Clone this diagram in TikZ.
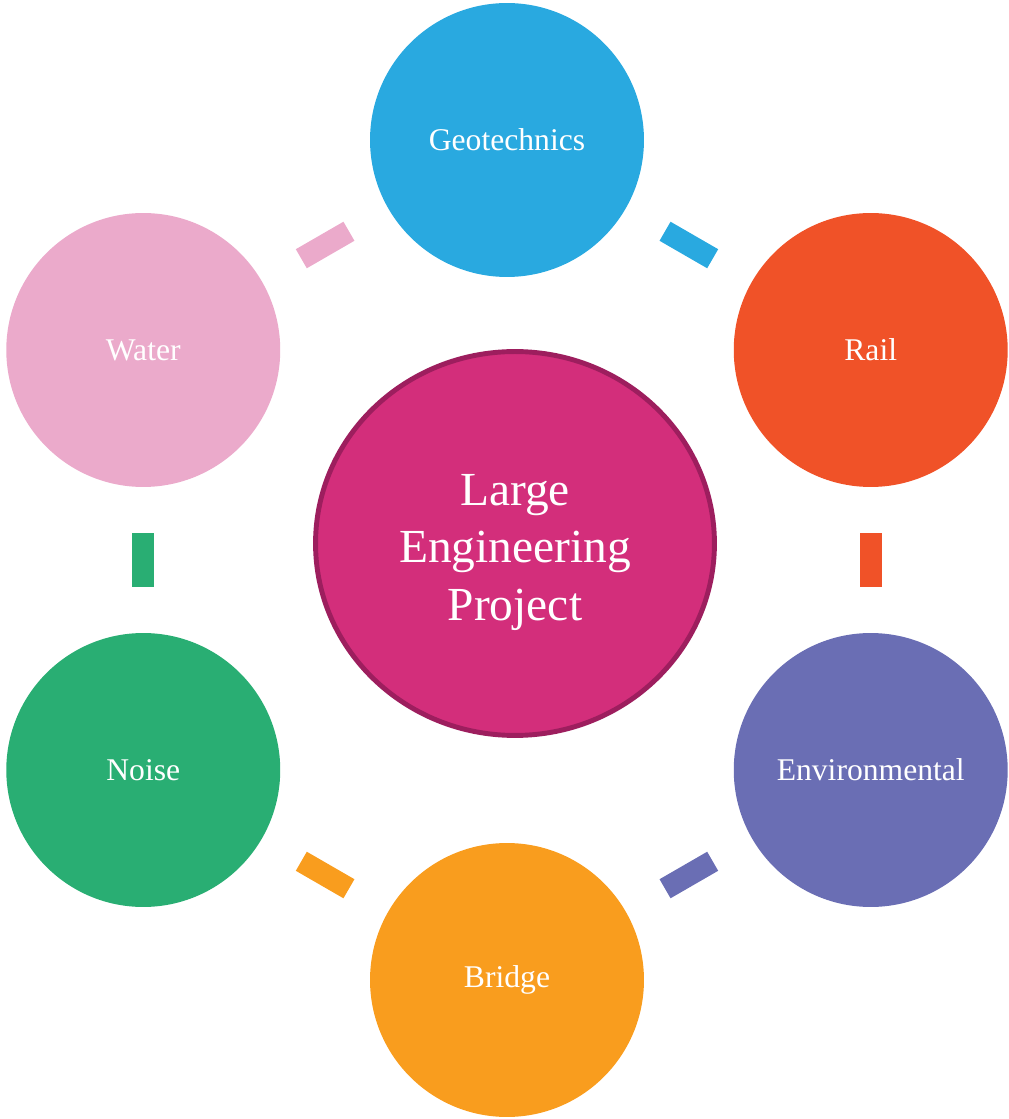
\documentclass[tikz,border=0pt]{standalone}
\usepackage{fontspec}
\setmainfont{Liberation Serif}
\usepackage{tikz}
\usetikzlibrary{calc}
\usetikzlibrary{shapes.geometric}
\definecolor{geoblue}{HTML}{29A9E0}
\definecolor{railred}{HTML}{F05228}
\definecolor{envpurple}{HTML}{6A6EB4}
\definecolor{bridgeorange}{HTML}{F99D1E}
\definecolor{noisegreen}{HTML}{29AE73}
\definecolor{waterpink}{HTML}{EBAACB}
\definecolor{hubfill}{HTML}{D32E7B}
\definecolor{hubborder}{HTML}{9D1E5E}

\begin{document}
\begin{tikzpicture}[x=0.02cm,y=0.02cm,
        topic/.style={circle,minimum size=5.48cm,inner sep=0pt,text=white,
            font=\fontsize{18}{21}\selectfont},
        link/.style={rectangle,minimum width=1.1cm,minimum height=0.44cm,inner sep=0pt}]
        \useasboundingbox (-507,-559) rectangle (501,560);
        % hub
        \node[ellipse,fill=hubfill,draw=hubborder,line width=2.8pt,
            minimum width=7.98cm,minimum height=7.68cm,inner sep=0pt,
            label={[name=hubtext,text=white,align=center,yshift=-0.18cm,
                font=\fontsize{27}{32.5}\selectfont]center:Large\\Engineering\\Project}]
            (hub) at (8,16.5) {};
        % topics round the hub
        \foreach \name/\ang/\col/\txt in {geo/90/geoblue/Geotechnics,
                rail/30/railred/Rail, env/-30/envpurple/Environmental,
                bridge/-90/bridgeorange/Bridge, noise/-150/noisegreen/Noise,
                water/150/waterpink/Water} {
            \node[topic,fill=\col] (\name) at (\ang:420) {\txt};
        }
        % links between neighbours
        \foreach \a/\b/\rot/\col in {water/geo/30/waterpink, geo/rail/-30/geoblue,
                rail/env/90/railred, env/bridge/30/envpurple,
                bridge/noise/-30/bridgeorange, noise/water/90/noisegreen} {
            \node[link,fill=\col,rotate=\rot] (\a-\b) at ($(\a)!0.5!(\b)$) {};
        }
    \end{tikzpicture}
\end{document}
